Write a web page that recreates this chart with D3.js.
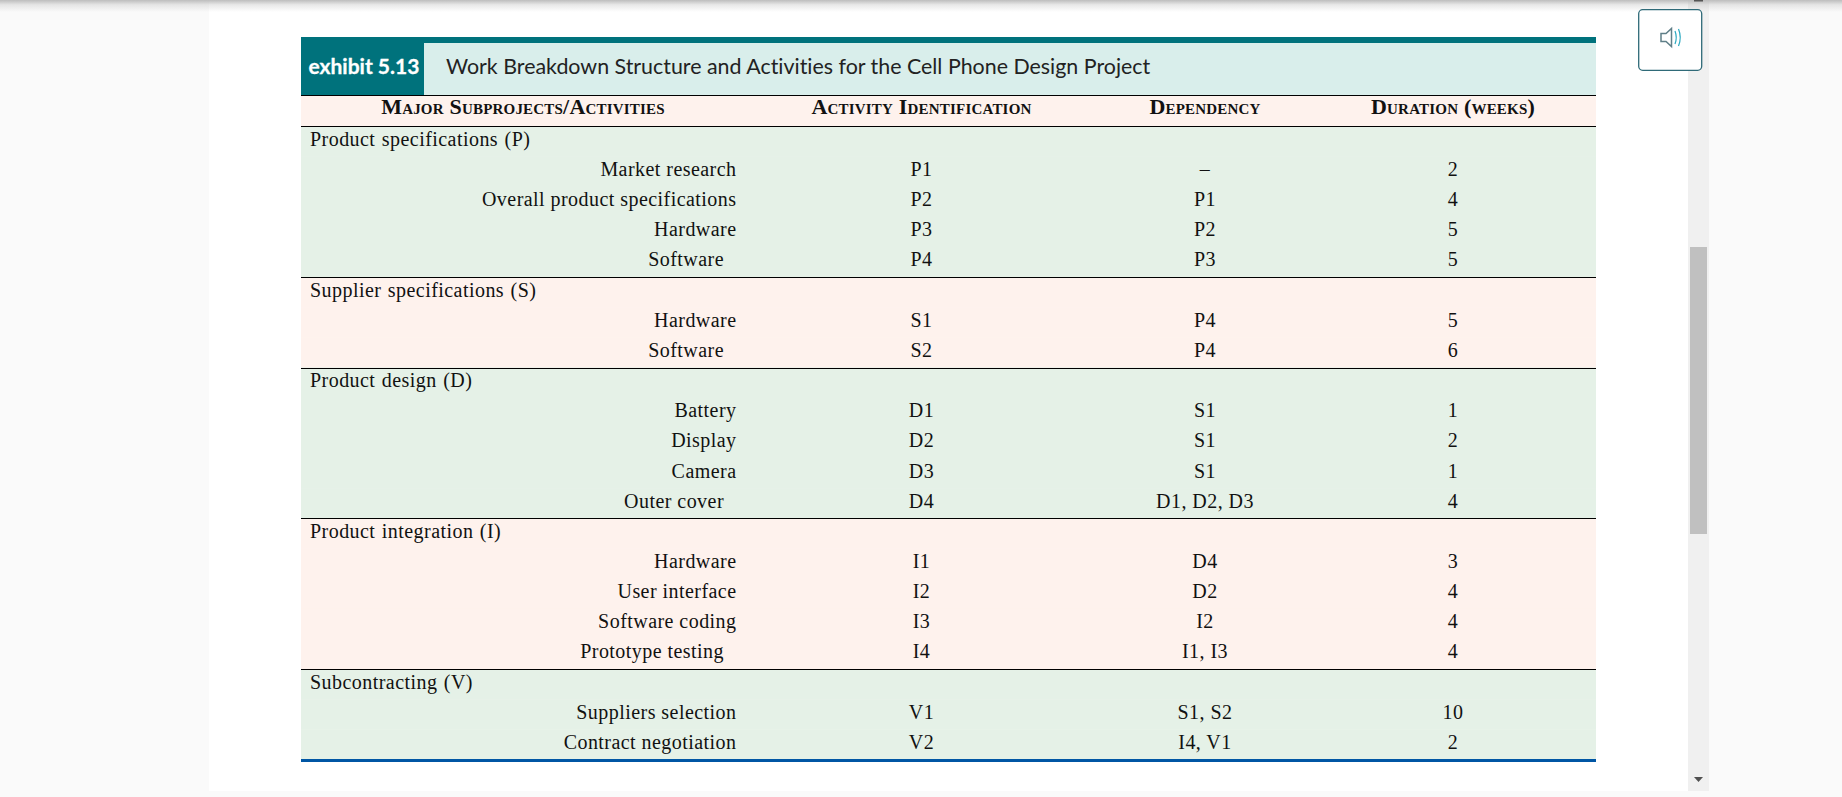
<!DOCTYPE html>
<html>
<head>
<meta charset="utf-8">
<script src="https://cdn.jsdelivr.net/npm/d3@7"></script>
<style>
  html, body { margin: 0; padding: 0; background: #fafafa; overflow: hidden; }
  svg { display: block; }
  .cell { font-family: "Liberation Serif", serif; font-size: 20px; fill: #111; letter-spacing: 0.45px; }
  .sect { word-spacing: 1px; }
  .head { font-family: "Liberation Serif", serif; font-size: 22px; font-weight: bold; font-variant: small-caps; fill: #111; letter-spacing: 0.2px; }
</style>
</head>
<body>
<div id="chart"></div>
<script>
const exhibitLabel = 'exhibit 5.13';
const exhibitTitle = 'Work Breakdown Structure and Activities for the Cell Phone Design Project';
const columnHeads = ['Major Subprojects/Activities', 'Activity Identification', 'Dependency', 'Duration (weeks)'];

const sectionNames = ['Product specifications (P)', 'Supplier specifications (S)', 'Product design (D)', 'Product integration (I)', 'Subcontracting (V)'];
const sectionSizes = [4, 2, 4, 4, 2];

const activities = ['Market research', 'Overall product specifications', 'Hardware', 'Software', 'Hardware', 'Software', 'Battery', 'Display', 'Camera', 'Outer cover', 'Hardware', 'User interface', 'Software coding', 'Prototype testing', 'Suppliers selection', 'Contract negotiation'];
const activityIds = ['P1', 'P2', 'P3', 'P4', 'S1', 'S2', 'D1', 'D2', 'D3', 'D4', 'I1', 'I2', 'I3', 'I4', 'V1', 'V2'];
const dependencies = ['–', 'P1', 'P2', 'P3', 'P4', 'P4', 'S1', 'S1', 'S1', 'D1, D2, D3', 'D4', 'D2', 'I2', 'I1, I3', 'S1, S2', 'I4, V1'];
const durations = [2, 4, 5, 5, 5, 6, 1, 2, 1, 4, 3, 4, 4, 4, 10, 2];
// these few labels sit a little left of the rest in the source table
const indented = ['P4', 'S2', 'D4', 'I4'];

const svg = d3.select('#chart').append('svg').attr('width', 1842).attr('height', 797);

// page furniture
svg.append('rect').attr('x', 209).attr('y', 0).attr('width', 1479).attr('height', 791).attr('fill', '#fff');
svg.append('rect').attr('x', 1688).attr('y', 0).attr('width', 21).attr('height', 791).attr('fill', '#f0f0f0');
svg.append('rect').attr('x', 1690).attr('y', 247).attr('width', 17).attr('height', 287).attr('fill', '#c0c0c0');
svg.append('path').attr('d', 'M1694 777h9l-4.5 5z').attr('fill', '#505050');

const shadow = svg.append('defs').append('linearGradient').attr('id', 'topShadow').attr('x2', 0).attr('y2', 1);
shadow.append('stop').attr('offset', 0).attr('stop-color', '#bdbdbd');
shadow.append('stop').attr('offset', 0.4).attr('stop-color', '#bdbdbd').attr('stop-opacity', 0.35);
shadow.append('stop').attr('offset', 1).attr('stop-color', '#bdbdbd').attr('stop-opacity', 0);
svg.append('rect').attr('width', 1842).attr('height', 12).attr('fill', 'url(#topShadow)');
svg.append('rect').attr('x', 1694).attr('y', 0).attr('width', 9).attr('height', 1.5).attr('fill', '#555');

// speaker button
svg.append('rect').attr('x', 1638.7).attr('y', 9.7).attr('width', 63).attr('height', 60.6).attr('rx', 4)
  .attr('fill', '#fff').attr('stroke', '#2f6a78').attr('stroke-width', 1.3);
svg.append('path').attr('d', 'M1661 33.5h5l5.5-5v18l-5.5-5h-5z').attr('fill', 'none').attr('stroke', '#5f7f88').attr('stroke-width', 1.5);
svg.append('path').attr('d', 'M1675 31q2.5 6.5 0 13M1678.5 29q3.5 8.5 0 17').attr('fill', 'none').attr('stroke', '#29a8c0').attr('stroke-width', 1.2);

// table frame
const x0 = 301, x1 = 1596;
const rowNames = [];
sectionNames.forEach((s, i) => {
  rowNames.push({ section: i, head: s });
  const start = d3.sum(sectionSizes.slice(0, i));
  d3.range(start, start + sectionSizes[i]).forEach(k => rowNames.push({ section: i, k }));
});

const y = d3.scaleBand().domain(d3.range(rowNames.length)).range([126.3, 759.5]);
const colX = d3.scaleOrdinal().domain(['id', 'dep', 'dur']).range([921.5, 1205, 1453]);
const sectionFill = d3.scaleOrdinal().domain(d3.range(5)).range(['#e5f1e7', '#fef2ed', '#e5f1e7', '#fef2ed', '#e5f1e7']);

svg.append('rect').attr('x', x0).attr('y', 37).attr('width', x1 - x0).attr('height', 6).attr('fill', '#00727c');
svg.append('rect').attr('x', x0).attr('y', 43).attr('width', x1 - x0).attr('height', 52).attr('fill', '#d9eeeb');
svg.append('rect').attr('x', x0).attr('y', 43).attr('width', 123).attr('height', 52).attr('fill', '#00727c');
svg.append('rect').attr('x', x0).attr('y', 95).attr('width', x1 - x0).attr('height', 32).attr('fill', '#fef2ed');

svg.append('text').attr('x', 308.5).attr('y', 73.5).text(exhibitLabel)
  .attr('font-family', 'Lato').attr('font-weight', 700).attr('font-size', 21).attr('fill', '#fff')
  .attr('stroke', '#fff').attr('stroke-width', 0.3);
svg.append('text').attr('x', 446).attr('y', 73.5).text(exhibitTitle)
  .attr('font-family', 'Lato').attr('font-size', 21.4).attr('fill', '#222')
  .style('font-variant-ligatures', 'none');

svg.selectAll('.head').data(columnHeads).join('text')
  .attr('class', 'head')
  .attr('x', (d, i) => [523, 921.5, 1205, 1453][i])
  .attr('y', 113.5)
  .attr('text-anchor', 'middle')
  .text(d => d);

// section backgrounds, drawn from the row band
const sections = d3.select('svg').append('g');
rowNames.forEach((r, i) => {
  sections.append('rect').attr('x', x0).attr('y', y(i)).attr('width', x1 - x0).attr('height', y.bandwidth() + 0.5)
    .attr('fill', sectionFill(r.section));
});

const rows = svg.append('g').selectAll('g').data(rowNames).join('g')
  .attr('transform', (d, i) => `translate(0,${y(i) + y.bandwidth() / 2 + 4.5})`);

rows.filter(d => d.head).append('text').attr('class', 'cell sect').attr('x', 310).text(d => d.head);

const body = rows.filter(d => !d.head);
body.append('text').attr('class', 'cell').attr('text-anchor', 'end')
  .attr('x', d => indented.includes(activityIds[d.k]) ? 724 : 736.5)
  .text(d => activities[d.k]);
body.append('text').attr('class', 'cell').attr('text-anchor', 'middle').attr('x', colX('id')).text(d => activityIds[d.k]);
body.append('text').attr('class', 'cell').attr('text-anchor', 'middle').attr('x', colX('dep')).text(d => dependencies[d.k]);
body.append('text').attr('class', 'cell').attr('text-anchor', 'middle').attr('x', colX('dur')).text(d => durations[d.k]);

// rules between sections
const ruleRows = rowNames.map((r, i) => r.head ? i : -1).filter(i => i >= 0);
svg.append('g').selectAll('line').data(ruleRows).join('line')
  .attr('x1', x0).attr('x2', x1)
  .attr('y1', d => Math.round(y(d)) + 0.5).attr('y2', d => Math.round(y(d)) + 0.5)
  .attr('stroke', '#000').attr('stroke-width', 1.2);
svg.append('line').attr('x1', x0).attr('x2', x1).attr('y1', 95.5).attr('y2', 95.5).attr('stroke', '#000').attr('stroke-width', 1.2);
svg.append('rect').attr('x', x0).attr('y', 759).attr('width', x1 - x0).attr('height', 3).attr('fill', '#0056a4');
</script>
</body>
</html>
